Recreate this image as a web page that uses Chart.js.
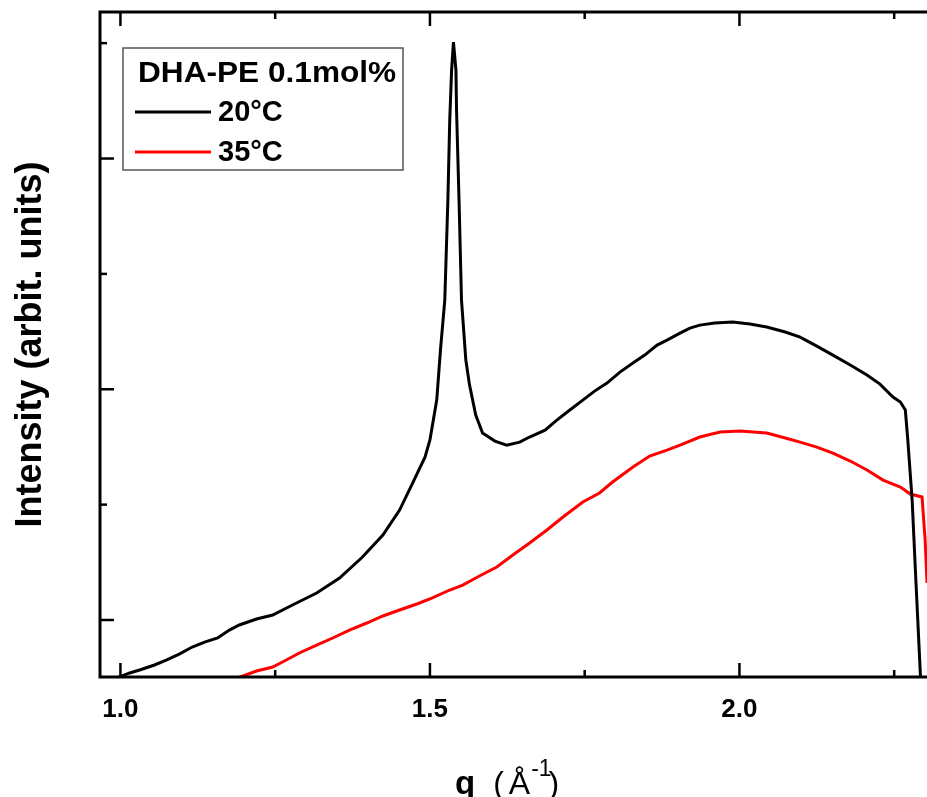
<!DOCTYPE html>
<html>
<head>
<meta charset="utf-8">
<script src="https://cdn.jsdelivr.net/npm/chart.js@4.4.1/dist/chart.umd.min.js"></script>
<style>
    body { margin: 0; background: #fff; }
    #wrap { width: 927px; height: 797px; position: relative; }
</style>
</head>
<body>
<div id="wrap"><canvas id="saxs-chart"></canvas></div>
<script>
// data: q in 1/Angstrom, intensity in arbitrary units
const qBlack = [0.99, 0.998, 1.015, 1.031, 1.055, 1.074, 1.095, 1.116, 1.136, 1.157, 1.176, 1.192, 1.220, 1.246,
    1.278, 1.317, 1.354, 1.391, 1.424, 1.451, 1.472, 1.492, 1.500, 1.511, 1.517, 1.524, 1.529, 1.532, 1.535,
    1.538, 1.542, 1.543, 1.547, 1.551, 1.558, 1.564, 1.574, 1.585, 1.605, 1.624, 1.645, 1.661, 1.686, 1.705,
    1.726, 1.747, 1.766, 1.786, 1.807, 1.828, 1.847, 1.867, 1.883, 1.904, 1.920, 1.936, 1.960, 1.989, 2.017,
    2.044, 2.074, 2.098, 2.125, 2.151, 2.179, 2.206, 2.227, 2.248, 2.260, 2.268, 2.272, 2.279, 2.285, 2.293]
const intBlack = [0.47, 0.506, 0.541, 0.567, 0.610, 0.653, 0.705, 0.766, 0.809, 0.844, 0.913, 0.957, 1.009, 1.043,
    1.130, 1.234, 1.364, 1.546, 1.737, 1.953, 2.187, 2.412, 2.560, 2.906, 3.340, 3.773, 4.640, 5.333, 5.766,
    6.009, 5.766, 5.419, 4.640, 3.773, 3.253, 3.036, 2.776, 2.620, 2.551, 2.516, 2.542, 2.586, 2.646, 2.733,
    2.820, 2.906, 2.984, 3.054, 3.149, 3.227, 3.296, 3.383, 3.426, 3.487, 3.530, 3.556, 3.574, 3.582, 3.565,
    3.539, 3.496, 3.452, 3.374, 3.296, 3.210, 3.123, 3.045, 2.932, 2.889, 2.820, 2.560, 2.040, 1.347, 0.45]

const qRed = [1.185, 1.220, 1.246, 1.268, 1.289, 1.317, 1.343, 1.370, 1.398, 1.424, 1.451, 1.479, 1.504, 1.532,
    1.553, 1.580, 1.608, 1.634, 1.661, 1.689, 1.715, 1.747, 1.774, 1.795, 1.828, 1.855, 1.883, 1.904, 1.936,
    1.969, 2.001, 2.044, 2.074, 2.098, 2.125, 2.151, 2.179, 2.206, 2.232, 2.260, 2.276, 2.295, 2.300, 2.303, 2.305]
const intRed = [0.49, 0.558, 0.593, 0.653, 0.714, 0.783, 0.844, 0.913, 0.974, 1.035, 1.087, 1.139, 1.191, 1.260,
    1.303, 1.381, 1.459, 1.563, 1.667, 1.780, 1.893, 2.023, 2.101, 2.196, 2.326, 2.421, 2.473, 2.516, 2.586,
    2.629, 2.638, 2.620, 2.577, 2.542, 2.499, 2.447, 2.378, 2.300, 2.213, 2.153, 2.092, 2.066, 1.693, 1.321, 1.0]

const xTicks = [1.0, 1.25, 1.5, 1.75, 2.0, 2.25]
const xMajor = [1.0, 1.5, 2.0]
const yTicks = [1, 2, 3, 4, 5, 6]
const yMajor = [1, 3, 5]

const legendTitle = 'DHA-PE 0.1mol%'
const seriesNames = ['20°C', '35°C']
const seriesColors = ['#000000', '#ff0000']

const toPoints = (xs, ys) => xs.map((x, i) => ({ x: x, y: ys[i] }))

// inward tick marks + frame (left, top, bottom)
const frameTicks = {
    id: 'frameTicks',
    afterDraw(chart) {
        const { ctx, chartArea: a, scales } = chart
        ctx.save()
        ctx.strokeStyle = '#000'
        ctx.lineWidth = 3
        ctx.beginPath()
        ctx.moveTo(chart.width + 5, a.top)
        ctx.lineTo(a.left, a.top)
        ctx.lineTo(a.left, a.bottom)
        ctx.lineTo(chart.width + 5, a.bottom)
        ctx.stroke()

        ctx.lineWidth = 2.5
        scales.x.ticks.forEach(t => {
            const px = scales.x.getPixelForValue(t.value)
            const len = xMajor.includes(t.value) ? 14 : 7
            ctx.beginPath()
            ctx.moveTo(px, a.bottom)
            ctx.lineTo(px, a.bottom - len)
            ctx.moveTo(px, a.top)
            ctx.lineTo(px, a.top + len)
            ctx.stroke()
        })
        scales.y.ticks.forEach(t => {
            const py = scales.y.getPixelForValue(t.value)
            const len = yMajor.includes(t.value) ? 14 : 7
            ctx.beginPath()
            ctx.moveTo(a.left, py)
            ctx.lineTo(a.left + len, py)
            ctx.stroke()
        })
        ctx.restore()
    }
}

// boxed legend with a title line
const boxLegend = {
    id: 'boxLegend',
    afterDraw(chart) {
        const { ctx, chartArea: a } = chart
        const x0 = a.left + 23, y0 = a.top + 36
        ctx.save()
        ctx.strokeStyle = '#555'
        ctx.lineWidth = 1.5
        ctx.strokeRect(x0, y0, 280, 122)
        ctx.font = 'bold 29px "Liberation Sans", Arial, sans-serif'
        ctx.fillStyle = '#000'
        ctx.textBaseline = 'middle'
        ctx.save()
        ctx.translate(x0 + 15, y0 + 26)
        ctx.scale(1.09, 1)
        ctx.fillText(legendTitle, 0, 0)
        ctx.restore()
        seriesNames.forEach((name, i) => {
            const y = y0 + 64 + i * 40
            ctx.strokeStyle = seriesColors[i]
            ctx.lineWidth = 3
            ctx.beginPath()
            ctx.moveTo(x0 + 12, y)
            ctx.lineTo(x0 + 88, y)
            ctx.stroke()
            ctx.fillText(name, x0 + 95, y + 1)
        })
        ctx.restore()
    }
}

// x axis title with superscript
const xTitle = {
    id: 'xTitle',
    afterDraw(chart) {
        const { ctx } = chart
        ctx.save()
        ctx.fillStyle = '#000'
        ctx.textBaseline = 'alphabetic'
        let x = 455
        const base = 794
        ctx.font = 'bold 33px "Liberation Sans", Arial, sans-serif'
        ctx.fillText('q', x, base)
        x += ctx.measureText('q').width + 18
        ctx.font = '32px "Liberation Sans", Arial, sans-serif'
        ctx.fillText('(', x, base)
        x += ctx.measureText('(').width + 5
        ctx.fillText('Å', x, base)
        x += ctx.measureText('Å').width + 1
        ctx.font = '23px "Liberation Sans", Arial, sans-serif'
        ctx.fillText('-1', x, base - 18)
        x += ctx.measureText('-1').width - 3
        ctx.font = '32px "Liberation Sans", Arial, sans-serif'
        ctx.fillText(')', x, base)
        ctx.restore()
    }
}

const saxsChart = new Chart(document.getElementById('saxs-chart'), {
    type: 'line',
    data: {
        datasets: [{
            label: seriesNames[0],
            data: toPoints(qBlack, intBlack),
            borderColor: seriesColors[0],
            borderWidth: 3,
            pointRadius: 0,
            tension: 0
        }, {
            label: seriesNames[1],
            data: toPoints(qRed, intRed),
            borderColor: seriesColors[1],
            borderWidth: 3,
            pointRadius: 0,
            tension: 0
        }]
    },
    options: {
        responsive: true,
        maintainAspectRatio: false,
        animation: false,
        devicePixelRatio: 1,
        layout: { padding: { top: 12, right: 0, left: 0, bottom: 0 } },
        plugins: {
            legend: { display: false },
            tooltip: { enabled: false }
        },
        scales: {
            x: {
                type: 'linear',
                min: 0.967,
                max: 2.303,
                afterBuildTicks: scale => { scale.ticks = xTicks.map(v => ({ value: v })) },
                afterFit: scale => { scale.height = 120 },
                grid: { display: false, drawTicks: false },
                border: { display: false },
                ticks: {
                    padding: 17,
                    color: '#000',
                    maxRotation: 0,
                    autoSkip: false,
                    font: { family: '"Liberation Sans", Arial, sans-serif', size: 26, weight: 'bold' },
                    callback: v => xMajor.includes(v) ? v.toFixed(1) : ''
                }
            },
            y: {
                type: 'linear',
                min: 0.506,
                max: 6.27,
                afterBuildTicks: scale => { scale.ticks = yTicks.map(v => ({ value: v })) },
                afterFit: scale => { scale.width = 100 },
                grid: { display: false, drawTicks: false },
                border: { display: false },
                ticks: { display: false },
                title: {
                    display: true,
                    text: 'Intensity (arbit. units)',
                    color: '#000',
                    padding: { top: 9, bottom: 0 },
                    font: { family: '"Liberation Sans", Arial, sans-serif', size: 36, weight: 'bold' }
                }
            }
        }
    },
    plugins: [frameTicks, boxLegend, xTitle]
})
</script>
</body>
</html>
